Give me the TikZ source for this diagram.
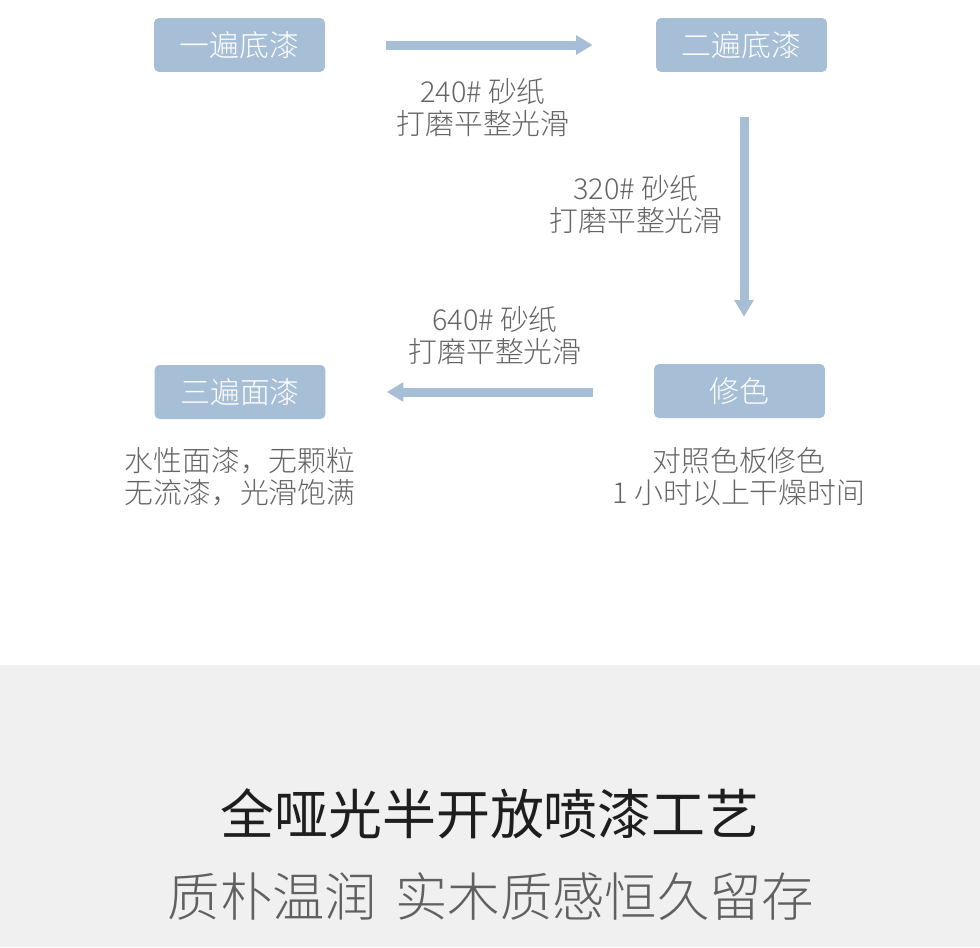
\documentclass[tikz,border=0pt]{standalone}
\usepackage{fontspec}
\setmainfont{Noto Sans CJK SC}[UprightFont=* Light]
\newfontfamily\titlefont{Noto Sans CJK SC}
\usetikzlibrary{calc, positioning}
\usetikzlibrary{arrows.meta}

\definecolor{boxblue}{RGB}{166,190,214}
\definecolor{notegray}{RGB}{100,100,100}
\definecolor{bandgray}{RGB}{240,240,240}
\definecolor{titleblack}{RGB}{30,30,30}
\definecolor{subgray}{RGB}{96,96,96}

\begin{document}
\begin{tikzpicture}[x=0.02cm, y=-0.02cm,
  stepbox/.style={fill=boxblue, rounded corners=0.1cm, inner sep=0pt,
    minimum width=3.42cm, minimum height=1.08cm, text=white,
    font=\fontsize{17pt}{18.2pt}\selectfont},
  flow/.style={draw=boxblue, line width=0.18cm,
    -{Triangle[length=0.33cm, width=0.37cm]}},
  note/.style={text=notegray, align=center, inner sep=0pt,
    font=\fontsize{16.4pt}{18.2pt}\selectfont}]
\useasboundingbox (0,0) rectangle (980,947);

% lower band
\fill[bandgray] (0,665) rectangle (980,947);

% steps
\node[stepbox] (coat1) at (239.5,45) {一遍底漆};
\node[stepbox] (coat2) at (741.5,45) {二遍底漆};
\node[stepbox] (coat3) at (240,392) {三遍面漆};
\node[stepbox] (tint) at (739.5,391) {修色};

% arrows
\draw[flow, shorten <=1.22cm, shorten >=1.26cm] (coat1.east) -- (coat2.west);
\draw[flow, shorten <=0.9cm, shorten >=0.94cm] ($(coat2.south)+(2.5,0)$) -- ($(coat2.south |- tint.north)+(2.5,0)$);
\draw[flow, shorten <=1.22cm, shorten >=1.22cm] ($(tint.west)+(0,1)$) -- (coat3.east);

% sanding notes
\node[note] (sand1) at (483,108) {240\# 砂纸\\打磨平整光滑};
\node[note] (sand2) at (636,205) {320\# 砂纸\\打磨平整光滑};
\node[note] (sand3) at (495,336) {640\# 砂纸\\打磨平整光滑};

% step notes
\node[note] (finish) at (240,477) {水性面漆，无颗粒\\无流漆，光滑饱满};
\node[note] (dry) at (739,477) {对照色板修色\\1 小时以上干燥时间};

% titles
\node[text=titleblack, font=\titlefont\fontsize{30.7pt}{34pt}\selectfont] (title) at (490,814) {全哑光半开放喷漆工艺};
\node[text=subgray, font=\fontsize{29.8pt}{34pt}\selectfont] (subtitle) at (491,897) {质朴温润\hspace{0.35em}实木质感恒久留存};
\end{tikzpicture}
\end{document}
